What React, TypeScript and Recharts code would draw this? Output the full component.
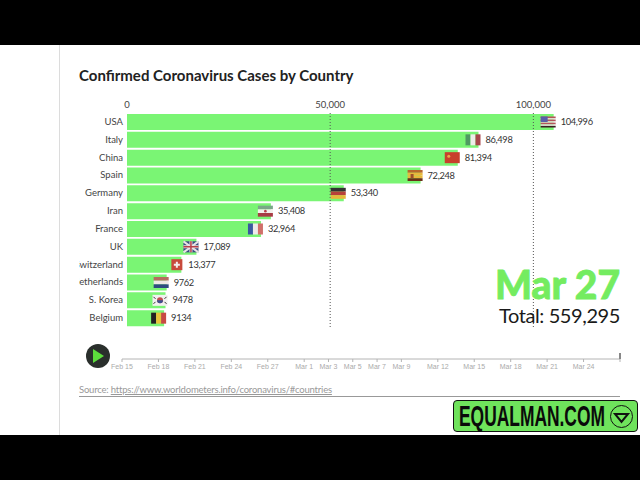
import * as React from "react";
import { BarChart, Bar, XAxis, YAxis, ReferenceLine, LabelList, LineChart } from "recharts";

const countries = ["USA", "Italy", "China", "Spain", "Germany", "Iran", "France", "UK", "Switzerland", "Netherlands", "S. Korea", "Belgium"];
const cases = [104996, 86498, 81394, 72248, 53340, 35408, 32964, 17089, 13377, 9762, 9478, 9134];
const caseLabels = ["104,996", "86,498", "81,394", "72,248", "53,340", "35,408", "32,964", "17,089", "13,377", "9762", "9478", "9134"];
const caseTicks = [0, 50000, 100000];
const timelineDays = [0, 3, 6, 9, 12, 15, 17, 19, 21, 23, 26, 29, 32, 35, 38, 41];
const timelineLabels = ["Feb 15", "Feb 18", "Feb 21", "Feb 24", "Feb 27", "Mar 1", "Mar 3", "Mar 5", "Mar 7", "Mar 9", "Mar 12", "Mar 15", "Mar 18", "Mar 21", "Mar 24", ""];

const GREEN = "#7af574";
const FONT = "Lato, sans-serif";

const rows = countries.map((country, i) => ({ country, cases: cases[i], label: caseLabels[i] }));
const timelineRows = timelineDays.map((day) => ({ day }));

const FLAG_W = 15;
const FLAG_H = 11;

function Stripes({ x, y, colors, vertical }: { x: number; y: number; colors: string[]; vertical?: boolean }) {
  return (
    <g>
      {colors.map((c, i) =>
        vertical ? (
          <rect key={i} x={x + (i * FLAG_W) / colors.length} y={y} width={FLAG_W / colors.length} height={FLAG_H} fill={c} />
        ) : (
          <rect key={i} x={x} y={y + (i * FLAG_H) / colors.length} width={FLAG_W} height={FLAG_H / colors.length} fill={c} />
        ),
      )}
    </g>
  );
}

function Flag({ name, x, y }: { name: string; x: number; y: number }) {
  switch (name) {
    case "USA":
      return (
        <g>
          <Stripes x={x} y={y} colors={["#b5545c", "#e6dcd8", "#b5545c", "#e6dcd8", "#b5545c", "#e6dcd8", "#3a2020"]} />
          <rect x={x} y={y} width={7} height={5.5} fill="#5a5fa8" />
        </g>
      );
    case "Italy":
      return <Stripes x={x} y={y} vertical colors={["#4f9a62", "#eeeeea", "#a8464c"]} />;
    case "China":
      return (
        <g>
          <rect x={x} y={y} width={FLAG_W} height={FLAG_H} fill="#c8402c" />
          <circle cx={x + 4} cy={y + 4} r={1.5} fill="#e8a84a" />
        </g>
      );
    case "Spain":
      return (
        <g>
          <Stripes x={x} y={y} colors={["#b8682c", "#e8b83c", "#e8b83c", "#6a3018"]} />
          <rect x={x + 3} y={y + 4} width={3} height={4} fill="#a0502c" />
        </g>
      );
    case "Germany":
      return <Stripes x={x} y={y} colors={["#333333", "#b8403a", "#e8b83c"]} />;
    case "Iran":
      return (
        <g>
          <Stripes x={x} y={y} colors={["#7aa888", "#f4f0ec", "#a83c44"]} />
          <circle cx={x + 7.5} cy={y + 5.5} r={1.3} fill="#b8404a" />
        </g>
      );
    case "France":
      return <Stripes x={x} y={y} vertical colors={["#3a5aa0", "#eeeaea", "#d0706a"]} />;
    case "UK":
      return (
        <g>
          <rect x={x} y={y} width={FLAG_W} height={FLAG_H} fill="#3a4a80" />
          <path d={`M${x} ${y}L${x + 15} ${y + 11}M${x + 15} ${y}L${x} ${y + 11}`} stroke="#e8e4e4" strokeWidth={2} />
          <path d={`M${x + 7.5} ${y}V${y + 11}M${x} ${y + 5.5}H${x + 15}`} stroke="#e8e4e4" strokeWidth={3} />
          <path d={`M${x + 7.5} ${y}V${y + 11}M${x} ${y + 5.5}H${x + 15}`} stroke="#b8404a" strokeWidth={1.5} />
        </g>
      );
    case "Switzerland":
      // square flag, narrower than the others
      return (
        <g>
          <rect x={x + 3} y={y} width={11} height={FLAG_H} fill="#c84a3c" />
          <path d={`M${x + 8.5} ${y + 2.5}V${y + 8.5}M${x + 5.5} ${y + 5.5}H${x + 11.5}`} stroke="#f4eeee" strokeWidth={2} />
        </g>
      );
    case "Netherlands":
      return <Stripes x={x} y={y} colors={["#b86a60", "#efe8e6", "#2f4a80"]} />;
    case "S. Korea":
      return (
        <g>
          <rect x={x} y={y} width={FLAG_W} height={FLAG_H} fill="#f2f0f0" />
          <circle cx={x + 7.5} cy={y + 5.5} r={3} fill="#c04a50" />
          <path d={`M${x + 4.5} ${y + 5.5}a3 3 0 0 0 6 0z`} fill="#3a5090" />
          <path d={`M${x + 1} ${y + 2}l2 2M${x + 14} ${y + 2}l-2 2M${x + 1} ${y + 9}l2 -2M${x + 14} ${y + 9}l-2 -2`} stroke="#333" strokeWidth={1} />
        </g>
      );
    default:
      return <Stripes x={x} y={y} vertical colors={["#222222", "#e8c43c", "#c84a44"]} />;
  }
}

function BarEnd(props: any) {
  const { x, y, width, height, index } = props;
  const end = x + width;
  const cy = y + height / 2;
  return (
    <g>
      <Flag name={countries[index]} x={end - 13} y={cy - FLAG_H / 2} />
      <text x={end + 7} y={cy + 3} fontSize={9.3} letterSpacing={-0.35} fill="#333" fontFamily={FONT}>
        {caseLabels[index]}
      </text>
    </g>
  );
}

function CountryTick(props: any) {
  const { x, y, payload } = props;
  return (
    <text x={x} y={y + 3} textAnchor="end" fontSize={9.5} fill="#444" fontFamily={FONT}>
      {payload.value}
    </text>
  );
}

export default function App() {
  return (
    <div style={{ position: "absolute", left: 0, top: 0, width: 640, height: 480, background: "#fff", overflow: "hidden", fontFamily: FONT }}>
      <div style={{ position: "absolute", left: 0, top: 0, width: 640, height: 45, background: "#000" }} />
      <div style={{ position: "absolute", left: 0, top: 435, width: 640, height: 45, background: "#000" }} />
      <div style={{ position: "absolute", left: 59, top: 45, width: 1, height: 390, background: "#dcdcdc" }} />
      <div style={{ position: "absolute", left: 79, top: 65, fontSize: 15, lineHeight: "20px", fontWeight: 700, color: "#222", whiteSpace: "nowrap" }}>
        Confirmed Coronavirus Cases by Country
      </div>

      <div style={{ position: "absolute", left: 79, top: 95 }}>
        <BarChart
          width={561}
          height={233}
          data={rows}
          layout="vertical"
          barCategoryGap={1}
          margin={{ top: 0, right: 66, bottom: 1, left: 0 }}
        >
          <XAxis
            type="number"
            orientation="top"
            domain={[0, 110000]}
            ticks={caseTicks}
            axisLine={false}
            tickLine={false}
            tickSize={3}
            height={18}
            interval={0}
            tickFormatter={(v: number) => v.toLocaleString("en-US")}
            tick={{ fontSize: 9.5, fill: "#444", fontFamily: FONT }}
          />
          <YAxis
            type="category"
            dataKey="country"
            width={48}
            interval={0}
            axisLine={false}
            tickLine={false}
            tickSize={2}
            tickMargin={2}
            tick={CountryTick}
          />
          <Bar dataKey="cases" fill={GREEN} isAnimationActive={false}>
            <LabelList dataKey="label" content={BarEnd} />
          </Bar>
          {caseTicks.slice(1).map((t) => (
            <ReferenceLine key={t} x={t} stroke="#555" strokeDasharray="1 2" />
          ))}
        </BarChart>
      </div>

      <svg style={{ position: "absolute", left: 85, top: 344 }} width={26} height={26}>
        <circle cx={13} cy={12} r={12} fill="#2a2f2c" />
        <path d="M8 5L19 12L8 19Z" fill="#5cdc3c" />
      </svg>

      <div style={{ position: "absolute", left: 100, top: 345 }}>
        <LineChart width={540} height={34} data={timelineRows} margin={{ top: 12, right: 20, bottom: 0, left: 22 }}>
          <XAxis
            type="number"
            dataKey="day"
            domain={[0, 41]}
            ticks={timelineDays}
            interval={0}
            tickSize={3}
            stroke="#b4b4b4"
            height={20}
            tickFormatter={(d: number) => timelineLabels[timelineDays.indexOf(d)]}
            tick={{ fontSize: 7, fill: "#aaa", fontFamily: "'Liberation Sans', sans-serif" }}
          />
        </LineChart>
      </div>
      <div style={{ position: "absolute", left: 619, top: 353, width: 2, height: 6, background: "#888" }} />

      <div style={{ position: "absolute", left: 79, top: 383, fontSize: 9.5, letterSpacing: -0.2, lineHeight: "14px", color: "#999", whiteSpace: "nowrap" }}>
        Source: <span style={{ textDecoration: "underline" }}>https://www.worldometers.info/coronavirus/#countries</span>
      </div>
      <div style={{ position: "absolute", left: 79, top: 396, width: 541, height: 1, background: "#999" }} />

      <div style={{ position: "absolute", right: 20, top: 261, fontSize: 39, lineHeight: "46px", fontWeight: 900, color: "#74ec60", whiteSpace: "nowrap", WebkitTextStroke: "0.8px #74ec60" }}>
        Mar 27
      </div>
      <div style={{ position: "absolute", right: 20, top: 301, fontSize: 20, letterSpacing: -0.4, lineHeight: "28px", color: "#1a1a1a", whiteSpace: "nowrap" }}>
        Total: 559,295
      </div>

      <div style={{ position: "absolute", left: 453, top: 400, width: 183, height: 30, background: "#6fe35c", border: "1px solid #111", borderRadius: 4 }}>
        <div style={{ position: "absolute", left: 5, top: 0, fontSize: 30, lineHeight: "30px", fontWeight: 700, color: "#0a0a0a", whiteSpace: "nowrap", fontFamily: "'Liberation Sans', sans-serif", transform: "scaleX(0.58)", transformOrigin: "left center" }}>
          EQUALMAN.COM
        </div>
        <svg style={{ position: "absolute", left: 155, top: 3 }} width={25} height={25}>
          <circle cx={12.5} cy={12.5} r={11} fill="none" stroke="#111" />
          <path d="M6 10H19L12.5 18Z" fill="none" stroke="#111" strokeWidth={2} />
        </svg>
      </div>
    </div>
  );
}
